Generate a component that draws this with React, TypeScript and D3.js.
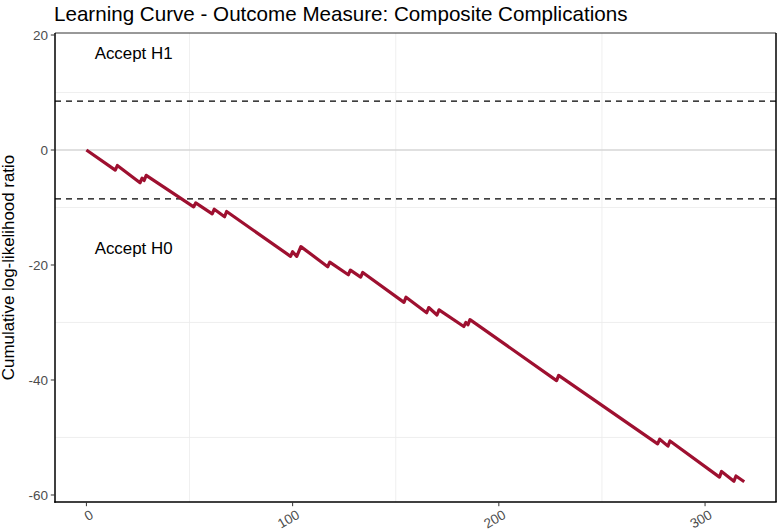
import React from "react";
import * as d3 from "d3";

// Vertices of the cumulative log-likelihood ratio curve (case number, value)
const caseNo = [0, 14, 15, 26, 27, 28, 29, 52, 53, 61, 62, 67, 68, 99, 100, 102, 104, 117, 118, 127, 128, 133, 134, 154, 155, 165, 166, 170, 171, 183, 184, 185, 186, 228, 229, 277, 278, 282, 283, 307, 308, 314, 315, 319];
const llr = [0, -3.5, -2.7, -5.7, -4.9, -5.3, -4.4, -9.9, -9.2, -11.1, -10.3, -11.6, -10.7, -18.5, -17.7, -18.5, -16.8, -20.3, -19.5, -21.7, -20.9, -22.1, -21.3, -26.5, -25.6, -28.3, -27.4, -28.7, -27.8, -30.7, -30.0, -30.4, -29.5, -40.1, -39.2, -51.1, -50.3, -51.5, -50.6, -56.9, -55.9, -57.6, -56.7, -57.7];

const xTicks = [0, 100, 200, 300];
const yTicks = [20, 0, -20, -40, -60];
const xMinorGrid = [50, 150, 250];
const yMinorGrid = [10, -10, -30, -50];
const boundaries = [8.5, -8.5];
const annotations = [
  { label: "Accept H1", x: 4, y: 16.8 },
  { label: "Accept H0", x: 4, y: -17.1 },
];

const title = "Learning Curve - Outcome Measure: Composite Complications";
const yTitle = "Cumulative log-likelihood ratio";

const W = 780;
const H = 532;
const left = 55;
const right = 776;
const top = 33;
const bottom = 502;

const FONT = "'Liberation Sans', Arial, Helvetica, sans-serif";

export default function App() {
  const x = d3.scaleLinear().domain([-15.23, 334.4]).range([left, right]);
  const y = d3.scaleLinear().domain([-61.22, 20.35]).range([bottom, top]);
  const pts: [number, number][] = caseNo.map((c, i) => [c, llr[i]]);
  const line = d3
    .line<[number, number]>()
    .x((d) => x(d[0]))
    .y((d) => y(d[1]));

  return (
    <div style={{ position: "absolute", left: 0, top: 0 }}>
      <svg width={W} height={H} style={{ display: "block", background: "#fff" }} fontFamily={FONT}>
        <rect x={0} y={0} width={W} height={H} fill="#fff" />
        {/* minor grid */}
        {xMinorGrid.map((v) => (
          <line key={"gx" + v} x1={x(v)} x2={x(v)} y1={top} y2={bottom} stroke="#ebebeb" strokeWidth={0.8} />
        ))}
        {yMinorGrid.map((v) => (
          <line key={"gy" + v} x1={left} x2={right} y1={y(v)} y2={y(v)} stroke="#ebebeb" strokeWidth={0.8} />
        ))}
        {/* zero line */}
        <line x1={left} x2={right} y1={y(0)} y2={y(0)} stroke="#d6d6d6" strokeWidth={1.3} />
        {/* boundaries */}
        {boundaries.map((b) => (
          <line key={"b" + b} x1={left} x2={right} y1={y(b)} y2={y(b)} stroke="#000" strokeWidth={1.4} strokeDasharray="6,5" />
        ))}
        {/* annotations */}
        {annotations.map((a) => (
          <text key={a.label} x={x(a.x)} y={y(a.y)} dy="0.35em" fontSize={16.9} fill="#000">
            {a.label}
          </text>
        ))}
        {/* curve */}
        <path d={line(pts) || ""} fill="none" stroke="#9E1030" strokeWidth={3.2} strokeLinejoin="round" />
        {/* panel border */}
        <line x1={left} x2={right} y1={top} y2={top} stroke="#333" strokeWidth={1} />
        <line x1={right} x2={right} y1={top} y2={bottom} stroke="#000" strokeWidth={1.5} />
        {/* axes */}
        <line x1={left} x2={left} y1={top} y2={bottom + 0.75} stroke="#000" strokeWidth={1.5} />
        <line x1={left - 0.75} x2={right + 0.75} y1={bottom} y2={bottom} stroke="#000" strokeWidth={1.5} />
        {yTicks.map((t) => (
          <g key={"yt" + t}>
            <line x1={left - 4.2} x2={left} y1={y(t)} y2={y(t)} stroke="#333" strokeWidth={1} />
            <text x={left - 7} y={y(t)} dy="0.35em" textAnchor="end" fontSize={13.5} fill="#4d4d4d">
              {t}
            </text>
          </g>
        ))}
        {xTicks.map((t) => (
          <g key={"xt" + t}>
            <line x1={x(t)} x2={x(t)} y1={bottom} y2={bottom + 4.2} stroke="#333" strokeWidth={1} />
            <text
              transform={`translate(${x(t) + 3},${bottom + 7}) rotate(-30)`}
              dy="0.72em"
              textAnchor="end"
              fontSize={13.5}
              fill="#4d4d4d"
            >
              {t}
            </text>
          </g>
        ))}
        {/* y title */}
        <text
          transform={`translate(14,${(top + bottom) / 2}) rotate(-90)`}
          textAnchor="middle"
          fontSize={16.9}
          fill="#000"
        >
          {yTitle}
        </text>
        {/* title */}
        <text x={left - 1} y={21} fontSize={20.6} fill="#000">
          {title}
        </text>
      </svg>
    </div>
  );
}
